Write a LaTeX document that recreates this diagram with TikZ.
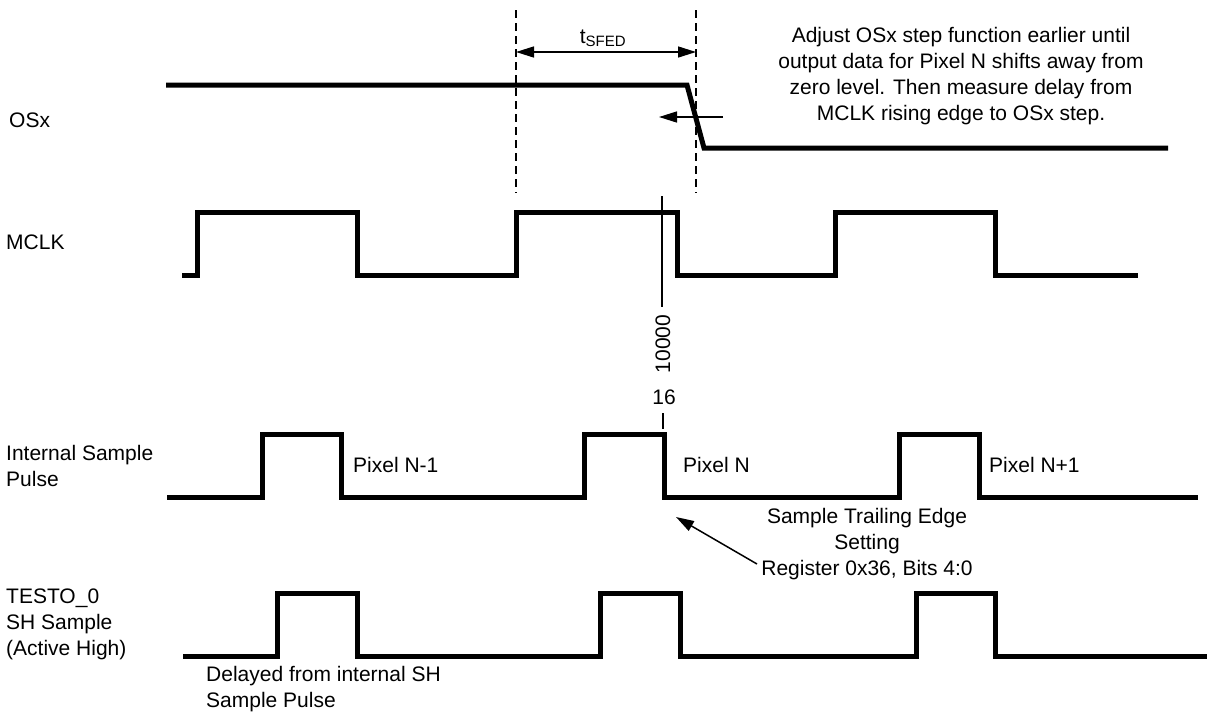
\documentclass[tikz,border=0pt]{standalone}
\usepackage{fontspec}
\setmainfont{Liberation Sans}
\usepackage{tikz}
\usetikzlibrary{arrows.meta}

\tikzset{
  sig/.style={line width=5pt},
  lbl/.style={font=\fontsize{21}{26}\selectfont, inner sep=0pt},
  dim/.style={line width=1.5pt, {Triangle[length=18pt,width=11pt]}-{Triangle[length=18pt,width=11pt]}},
  pointer/.style={line width=1.5pt, -{Triangle[length=18pt,width=11pt]}},
  guide/.style={line width=1.6pt, dash pattern=on 8pt off 5pt}
}

\begin{document}
\begin{tikzpicture}[x=1pt,y=-1pt]
      \useasboundingbox (0,0) rectangle (1207,713);
      % signal names
      \node[lbl, anchor=west] (n1) at (9,120) {OSx};
      \node[lbl, anchor=west] (n2) at (6,242) {MCLK};
      \node[lbl, anchor=west, align=left] (n3) at (6,466) {Internal Sample\\Pulse};
      \node[lbl, anchor=west, align=left] (n4) at (6,624) {TESTO\_0\\SH Sample\\(Active High)};
      % OSx
      \draw[sig] (166,85) -- (687,85) -- (704,148) -- (1168,148);
      % MCLK
      \draw[sig] (182,275) -- (197,275) -- (197,212) -- (357,212) -- (357,275)
        -- (516,275) -- (516,212) -- (677,212) -- (677,275)
        -- (835,275) -- (835,212) -- (995,212) -- (995,275) -- (1138,275);
      % internal sample pulse
      \draw[sig] (167,497) -- (262,497) -- (262,434) -- (341,434) -- (341,497)
        -- (584,497) -- (584,434) -- (664,434) -- (664,497)
        -- (899,497) -- (899,434) -- (979,434) -- (979,497) -- (1198,497);
      % TESTO_0
      \draw[sig] (183,656) -- (277,656) -- (277,593) -- (357,593) -- (357,656)
        -- (600,656) -- (600,593) -- (680,593) -- (680,656)
        -- (916,656) -- (916,593) -- (995,593) -- (995,656) -- (1207,656);
      % t_SFED window
      \draw[guide] (516,10) -- (516,193);
      \draw[guide] (696,10) -- (696,193);
      \coordinate (c1) at (516,52);
      \coordinate (c2) at (696,52);
      \draw[dim] (c1) -- (c2);
      \node[lbl] (n5) at (603,38) {t\textsubscript{\fontsize{15}{15}\selectfont SFED}};
      \coordinate (c3) at (723,117);
      \coordinate (c4) at (659,117);
      \draw[pointer] (c3) -- (c4);
      \node[lbl, align=center] (n6) at (961,76) {Adjust OSx step function earlier until\\output data for Pixel N shifts away from\\zero level. Then measure delay from\\MCLK rising edge to OSx step.};
      % marker line and values
      \coordinate (c5) at (662,196);
      \coordinate (c6) at (662,307);
      \draw[line width=1.5pt] (c5) -- (c6);
      \node[lbl, rotate=90] (n7) at (663,344) {10000};
      \node[lbl] (n8) at (664,397) {16};
      \coordinate (c7) at (663,413);
      \coordinate (c8) at (663,429);
      \draw[line width=1.5pt] (c7) -- (c8);
      % pixel labels
      \node[lbl, anchor=west] (n9) at (353,465) {Pixel N-1};
      \node[lbl, anchor=west] (n10) at (683,465) {Pixel N};
      \node[lbl, anchor=west] (n11) at (989,465) {Pixel N+1};
      \node[lbl, align=center] (n12) at (867,544) {Sample Trailing Edge\\Setting\\Register 0x36, Bits 4:0};
      \coordinate (c9) at (757,564);
      \coordinate (c10) at (676,517);
      \draw[pointer] (c9) -- (c10);
      \node[lbl, anchor=west, align=left] (n13) at (206,689) {Delayed from internal SH\\Sample Pulse};
    \end{tikzpicture}
\end{document}
